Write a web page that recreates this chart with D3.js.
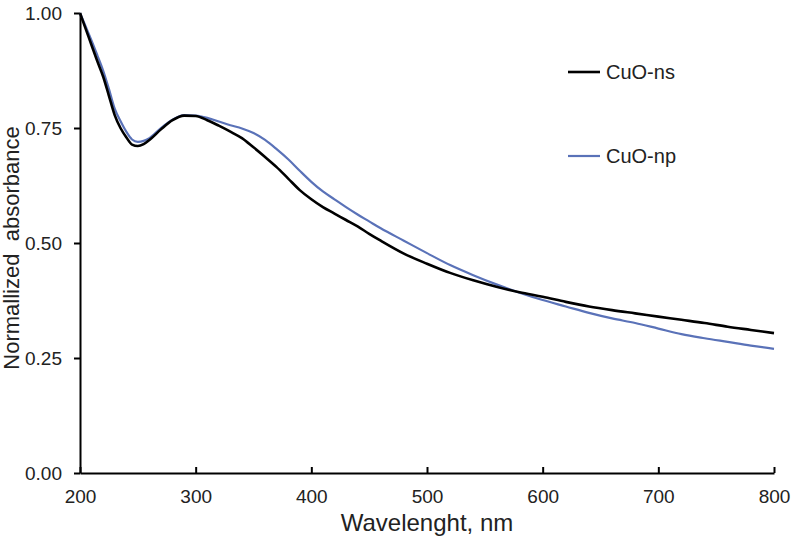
<!DOCTYPE html>
<html>
<head>
<meta charset="utf-8">
<script src="https://cdn.jsdelivr.net/npm/d3@7"></script>
<style>
html,body{margin:0;padding:0;background:#fff;}
svg{display:block;font-family:"Liberation Sans", Arial, sans-serif;}
</style>
</head>
<body>
<svg id="chart" width="800" height="541"></svg>
<script>
const wavelengths = [200,205,210,215,220,225,230,235,240,245,250,255,260,270,280,290,300,310,320,330,340,350,360,370,380,390,400,410,420,430,440,450,460,480,500,520,540,560,580,600,620,640,660,680,700,720,740,760,780,800];
const cuoNs = [1.00,0.965,0.93,0.895,0.862,0.82,0.778,0.75,0.73,0.714,0.711,0.715,0.724,0.747,0.767,0.777,0.776,0.767,0.755,0.742,0.728,0.708,0.687,0.665,0.64,0.615,0.595,0.578,0.564,0.55,0.536,0.52,0.505,0.477,0.455,0.435,0.419,0.405,0.393,0.383,0.372,0.362,0.354,0.347,0.34,0.333,0.326,0.318,0.311,0.304];
const cuoNp = [1.00,0.97,0.94,0.908,0.875,0.835,0.792,0.765,0.742,0.725,0.72,0.722,0.728,0.75,0.768,0.778,0.777,0.772,0.764,0.756,0.749,0.739,0.724,0.704,0.682,0.657,0.633,0.612,0.595,0.578,0.562,0.547,0.532,0.505,0.478,0.452,0.43,0.41,0.392,0.376,0.362,0.348,0.336,0.326,0.314,0.302,0.293,0.285,0.277,0.27];
const seriesNames = ["CuO-ns","CuO-np"];
const xTicks = [200,300,400,500,600,700,800];
const yTicks = [0,0.25,0.5,0.75,1.0];
const xTitle = "Wavelenght, nm";
const yTitle = "Normallized\u00a0\u00a0absorbance";

const svg = d3.select("#chart");
const x = d3.scaleLinear().domain([200,800]).range([80,774]);
const y = d3.scaleLinear().domain([0,1]).range([473,13]);

// axes
const xAxis = svg.append("g").attr("transform","translate(0,473)")
  .call(d3.axisBottom(x).tickValues(xTicks).tickSizeInner(-6).tickSizeOuter(0).tickPadding(17).tickFormat(d3.format("d")));
const yAxis = svg.append("g").attr("transform","translate(80,0)")
  .call(d3.axisLeft(y).tickValues(yTicks).tickSizeInner(6).tickSizeOuter(0).tickPadding(12).tickFormat(d3.format(".2f")));
[xAxis,yAxis].forEach(g=>{
  g.select(".domain").attr("stroke","#000").attr("stroke-width",2);
  g.selectAll(".tick line").attr("stroke","#000").attr("stroke-width",2);
  g.selectAll(".tick text").attr("fill","#222").attr("font-size",19).attr("font-family","Liberation Sans, Arial, sans-serif");
});
yAxis.selectAll(".tick text").attr("dy","0.35em");

const line = d3.line().x((d,i)=>x(wavelengths[i])).y(d=>y(d)).curve(d3.curveMonotoneX);
svg.append("path").datum(cuoNp).attr("d",line).attr("fill","none").attr("stroke","#5a72b8").attr("stroke-width",2.2);
svg.append("path").datum(cuoNs).attr("d",line).attr("fill","none").attr("stroke","#000").attr("stroke-width",2.6);

// legend
const legend = [{name:seriesNames[0],color:"#000",w:2.6,y:72},{name:seriesNames[1],color:"#5a72b8",w:2.2,y:156}];
legend.forEach(l=>{
  svg.append("line").attr("x1",568).attr("x2",600).attr("y1",l.y).attr("y2",l.y).attr("stroke",l.color).attr("stroke-width",l.w);
  svg.append("text").attr("x",606).attr("y",l.y).attr("dy","0.35em").attr("font-size",20).attr("fill","#222").text(l.name);
});

// titles
svg.append("text").attr("x",(x(200)+x(800))/2).attr("y",531).attr("text-anchor","middle").attr("font-size",24).attr("fill","#222").text(xTitle);
svg.append("text").attr("transform","translate(19,248) rotate(-90)").attr("text-anchor","middle").attr("font-size",22).attr("fill","#222").text(yTitle);
</script>
</body>
</html>
